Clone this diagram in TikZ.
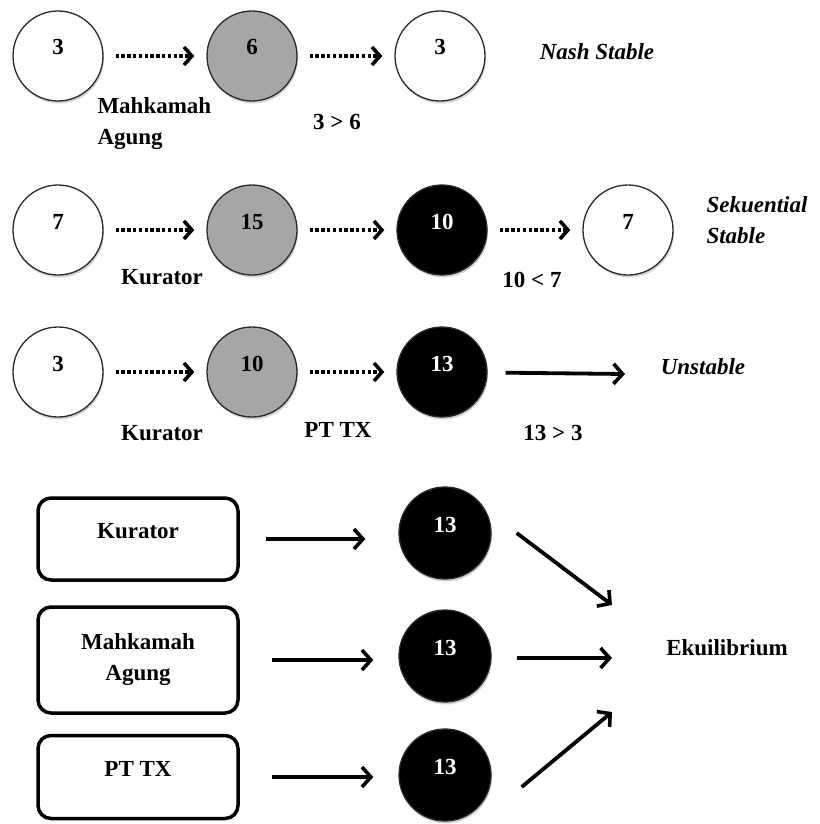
\documentclass[tikz,border=0pt]{standalone}
\usepackage{fontspec}
\setmainfont{Liberation Serif}
\usetikzlibrary{positioning,calc,arrows.meta,shadows}

\begin{document}
\begin{tikzpicture}[
		x=1pt, y=-1pt,
		font=\bfseries\fontsize{23}{31}\selectfont,
		line cap=butt,
		line join=round
		]
		% warna
		\definecolor{ncGray}{HTML}{A6A6A6}
		\definecolor{ncEdge}{HTML}{2A2A2A}
		
		% Style node
		\tikzset{
			wnode/.style={circle, draw=ncEdge, line width=1.3pt, fill=white,
				minimum size=90pt, inner sep=0pt, text height=16pt, text depth=18pt,
				drop shadow={shadow xshift=1pt, shadow yshift=-2.5pt, opacity=0.35}},
			gnode/.style={wnode, fill=ncGray},
			knode/.style={wnode, fill=black, text=white},
			party/.style={rectangle, rounded corners=13pt, draw=black, line width=3.5pt,
				minimum width=200pt, align=center},
			ptop/.style={party, text height=16pt, text depth=18pt},
			dotarr/.style={line width=4pt, dash pattern=on 3.4pt off 2.4pt,
				-{Straight Barb[length=8pt,width=18pt,line width=3.6pt]},
				shorten <=12pt, shorten >=12pt},
			solarr/.style={line width=3.8pt,
				-{Straight Barb[length=9pt,width=20pt,line width=3.6pt]}},
			note/.style={font=\bfseries\itshape\fontsize{23}{31}\selectfont, align=left}
		}
		
		\useasboundingbox (0,0) rectangle (819,824);
		
		% ===== baris 1 =====
		\node[wnode] (a1) at (58,56)  {3};
		\node[gnode] (a2) at (252,56) {6};
		\node[wnode] (a3) at (440,56) {3};
		\draw[dotarr] (a1) -- (a2);
		\draw[dotarr] (a2) -- (a3);
		
		\node[anchor=west, align=left] (ma1) at (94,124) {Mahkamah\\Agung};
		\node (r1) at (337,122) {3 > 6};
		\node[note] (s1) at (597,52) {Nash Stable};
		
		% ===== baris 2 =====
		\node[wnode] (b1) at (58,230)  {7};
		\node[gnode] (b2) at (252,230) {15};
		\node[knode] (b3) at (442,230) {10};
		\node[wnode] (b4) at (628,230) {7};
		\draw[dotarr] (b1) -- (b2);
		\draw[dotarr] (b2) -- (b3);
		\draw[dotarr] (b3) -- (b4);
		
		\node (k2) at (162,277) {Kurator};
		\node (r2) at (532,280) {10 < 7};
		\node[note, anchor=west] (s2) at (703,220) {Sekuential\\Stable};
		
		% ===== baris 3 =====
		\node[wnode] (c1) at (58,372)  {3};
		\node[gnode] (c2) at (252,372) {10};
		\node[knode] (c3) at (442,372) {13};
		\coordinate (c4) at (625,374);
		\draw[dotarr] (c1) -- (c2);
		\draw[dotarr] (c2) -- (c3);
		\draw[solarr, shorten <=18pt] (c3) -- (c4);
		
		\node (k3) at (162,433) {Kurator};
		\node (pt3) at (338,430) {PT TX};
		\node (r3) at (553,433) {13 > 3};
		\node[note] (s3) at (703,367) {Unstable};
		
		% ===== ekuilibrium =====
		\node[ptop, minimum height=82pt]  (p1) at (138,539) {Kurator};
		\node[party, minimum height=106pt] (p2) at (138,660) {Mahkamah\\Agung};
		\node[ptop, minimum height=83pt]  (p3) at (138,777) {PT TX};
		
		\node[knode, minimum size=92pt] (d1) at (445,533) {13};
		\node[knode, minimum size=92pt] (d2) at (445,656) {13};
		\node[knode, minimum size=92pt] (d3) at (445,775) {13};
		
		\draw[solarr, shorten <=26pt, shorten >=33pt] (p1.east) -- (p1.east -| d1.west);
		\draw[solarr, shorten <=32pt, shorten >=25pt] (p2.east) -- (p2.east -| d2.west);
		\draw[solarr, shorten <=32pt, shorten >=25pt] (p3.east) -- (p3.east -| d3.west);
		
		\coordinate (e1) at (612,605);
		\coordinate (e2) at (612,658);
		\coordinate (e3) at (612,712);
		\draw[solarr] ([xshift=25pt]d1.east) -- (e1);
		\draw[solarr] ([xshift=25pt,yshift=-2pt]d2.east) -- (e2);
		\draw[solarr] ([xshift=30pt,yshift=-12pt]d3.east) -- (e3);
		
		\node (eq) at (727,648) {Ekuilibrium};
		
	\end{tikzpicture}
\end{document}
